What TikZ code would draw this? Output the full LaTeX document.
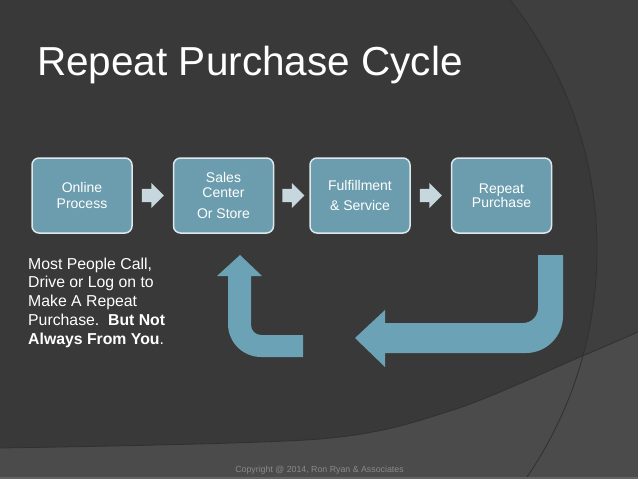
\documentclass[tikz,border=0pt]{standalone}
\usepackage{fontspec}
\setmainfont{Liberation Sans}
\usepackage{xcolor}
\usepackage{tikz}
\usetikzlibrary{positioning}
\usetikzlibrary{shapes.arrows}
\definecolor{slidebg}{HTML}{393939}
\definecolor{sideshade}{HTML}{3F3F3F}
\definecolor{floorshade}{HTML}{4B4B4B}
\definecolor{edgeline}{HTML}{303030}
\definecolor{boxfill}{HTML}{6B9DAE}
\definecolor{boxedge}{HTML}{DCE8EC}
\definecolor{chevfill}{HTML}{C6D7DD}
\definecolor{loopfill}{HTML}{6CA2B5}
\definecolor{creditgray}{HTML}{8A8A8A}
\tikzset{
  stage/.style={
    draw=boxedge, line width=1.5pt, fill=boxfill, rounded corners=7pt,
    minimum width=100pt, minimum height=75pt, inner sep=2pt,
    align=center, text=white, font=\fontsize{14}{15}\selectfont,
  },
  chev/.style={
    single arrow, fill=chevfill, draw=none, inner xsep=0pt, inner ysep=6.5pt,
    minimum height=22pt, single arrow head extend=6pt,
  },
  loop/.style={fill=loopfill},
  title/.style={text=white, inner sep=0pt, font=\fontsize{40.5}{49}\selectfont},
  note/.style={text=white, inner sep=0pt, align=left, font=\fontsize{15.8}{18.7}\selectfont},
  credit/.style={text=creditgray, inner sep=0pt, font=\fontsize{8.8}{10}\selectfont},
}

\begin{document}
\begin{tikzpicture}[x=1pt, y=-1pt]

  % Background
  \useasboundingbox (0,0) rectangle (638,479);
  \fill[slidebg] (0,0) rectangle (638,479);
  \fill[sideshade, even odd rule] (0,0) rectangle (638,479) (194,250) circle[radius=403pt];
  \fill[floorshade] plot[smooth] coordinates {(0,448) (320,439) (453,410) (580,357) (638,332)}
    -- (638,479) -- (0,479) -- cycle;
  \draw[edgeline, line width=0.8pt] plot[smooth] coordinates {(0,448) (320,439) (453,410) (580,357) (638,332)};
  \begin{scope}
    \clip (0,0) rectangle (638,479);
    \draw[edgeline, line width=0.8pt] (194,250) circle[radius=403pt];
  \end{scope}
  \fill[gray!60!slidebg] (0,476.5) rectangle (638,479);

  % Define nodes
  \node[title, anchor=base west] (heading) at (37,75) {Repeat Purchase Cycle};

  \node[stage] (online) at (82,195.5) {Online\\[1pt]Process};
  \node[stage, right=40pt of online] (sales) {Sales\\Center\\[6.5pt]Or Store};
  \node[stage, right=35pt of sales] (fulfil) {Fulfillment\\[5pt]\& Service};
  \node[stage, right=40pt of fulfil] (repeat) {Repeat\\[-1pt]Purchase};

  \node[chev, right=9pt of online] (stepa) {};
  \node[chev, right=8pt of sales] (stepb) {};
  \node[chev, right=9pt of fulfil] (stepc) {};

  \node[note, anchor=base west] (remark) at (28,344)
    {Most People Call,\\Drive or Log on to\\Make A Repeat\\Purchase.\ \ \textbf{But Not}\\\textbf{Always From You}.};

  \node[credit, anchor=base] (copy) at (319.5,472) {Copyright @ 2014, Ron Ryan \& Associates};

  % Loop arrows
  \fill[loop] (538,255) -- (563,255) -- (563,316)
    .. controls (563,336.4) and (546.4,353) .. (526,353)
    -- (385,353) -- (385,367) -- (355,338) -- (385,310) -- (385,323) -- (523,323)
    .. controls (531.3,323) and (538,316.3) .. (538,308) -- cycle;
  \fill[loop] (240,255) -- (262,276) -- (251,276) -- (251,325)
    .. controls (251,330.5) and (255.5,335) .. (261,335)
    -- (303,335) -- (303,357) -- (261,357)
    .. controls (242.8,357) and (228,342.2) .. (228,324)
    -- (228,276) -- (217,276) -- cycle;

\end{tikzpicture}
\end{document}
